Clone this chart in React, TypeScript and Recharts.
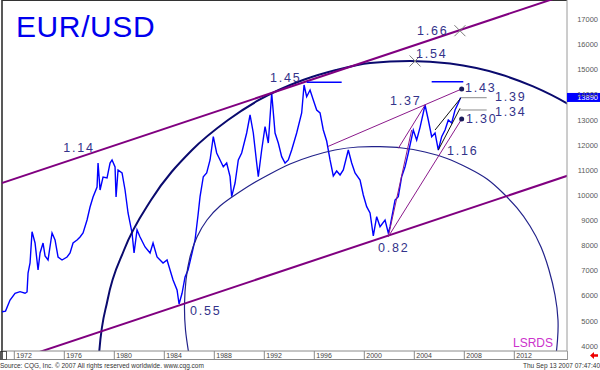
import React from "react";
import { ComposedChart, Line, XAxis, YAxis, ReferenceLine, ReferenceDot } from "recharts";

// ---------- price series (EUR/USD, quoted x10000) ----------
const priceYears = [
  1971.02, 1971.3, 1971.66, 1972.06, 1972.46, 1972.86, 1973.02, 1973.1, 1973.26, 1973.42, 1973.66, 1973.9,
  1974.06, 1974.3, 1974.46, 1974.7, 1975.02, 1975.26, 1975.5, 1975.82, 1976.22, 1976.46, 1976.7, 1977.02,
  1977.26, 1977.5, 1977.82, 1978.06, 1978.3, 1978.62, 1978.7, 1978.86, 1979.1, 1979.42, 1979.66, 1979.82,
  1980.06, 1980.14, 1980.3, 1980.62, 1980.86, 1981.1, 1981.42, 1981.58, 1981.82, 1982.06, 1982.46, 1982.86,
  1983.1, 1983.42, 1983.66, 1983.9, 1984.22, 1984.46, 1984.7, 1985.02, 1985.18, 1985.42, 1985.66, 1985.9,
  1986.22, 1986.46, 1986.7, 1986.86, 1987.12, 1987.39, 1987.66, 1987.92, 1988.19, 1988.46, 1988.72, 1988.99,
  1989.26, 1989.39, 1989.66, 1989.92, 1990.19, 1990.59, 1990.86, 1991.12, 1991.39, 1991.52, 1991.79, 1992.06,
  1992.32, 1992.59, 1992.86, 1993.12, 1993.39, 1993.66, 1993.92, 1994.19, 1994.59, 1994.99, 1995.18, 1995.39,
  1995.66, 1995.92, 1996.19, 1996.46, 1996.72, 1996.99, 1997.26, 1997.52, 1997.79, 1998.06, 1998.32, 1998.72,
  1998.99, 1999.26, 1999.66, 1999.92, 2000.19, 2000.46, 2000.72, 2000.99, 2001.26, 2001.66, 2001.92, 2002.06,
  2002.46, 2002.72, 2002.99, 2003.26, 2003.39, 2003.52, 2003.92, 2004.19, 2004.46, 2004.86, 2005.12, 2005.39,
  2005.66, 2005.92, 2006.19, 2006.46, 2006.72, 2006.99, 2007.26, 2007.52, 2007.71,
];
const priceValues = [
  5365, 5390, 5831, 6098, 6161, 6098, 6150, 6905, 7303, 8549, 8099, 7025,
  7701, 8099, 7582, 7422, 8497, 8219, 7542, 7422, 7542, 7701, 8099, 8219,
  8338, 8497, 9014, 9531, 9929, 10327, 11282, 10208, 10725, 10685, 11282, 11402,
  11123, 9929, 11004, 10884, 10208, 9293, 8497, 7701, 8616, 8338, 7940, 7701,
  8099, 7542, 7422, 7303, 7422, 7025, 6627, 6229, 5672, 6098, 6746, 7025,
  7701, 8219, 9213, 9941, 10737, 10884, 11402, 12329, 11680, 11402, 11135, 11282,
  10737, 9941, 10486, 11402, 11680, 12476, 13192, 12476, 11282, 10737, 11799, 12727,
  12078, 14067, 12476, 12078, 11533, 11282, 11402, 11799, 12476, 13272, 14386, 13920,
  14187, 13789, 13391, 13272, 12595, 12157, 11402, 10765, 10964, 10805, 11004, 11799,
  11282, 10884, 10606, 10009, 9543, 9293, 8378, 9146, 8748, 9014, 8497, 8748,
  9810, 9941, 10737, 11135, 11402, 11680, 12595, 12197, 12700, 13590, 12993, 12329,
  12476, 11799, 12329, 12595, 12993, 12874, 13391, 13670, 13890,
];
const lastPrice = 13890;

// ---------- axes ----------
const yearTicks = [1972, 1976, 1980, 1984, 1988, 1992, 1996, 2000, 2004, 2008, 2012];
const priceTicks = [4000, 5000, 6000, 7000, 8000, 9000, 10000, 11000, 12000, 13000, 14000, 15000, 16000, 17000];
const xDomain = [1971.016, 2016.216];
const yDomain = [3801, 17768];

// ---------- trend lines ----------
const upperChannelYears = [1970, 2017];
const upperChannelValues = [10317, 18123];
const lowerChannelYears = [1970, 2017];
const lowerChannelValues = [3096, 10898];
const fan137Years = [1997.09, 2007.79];
const fan137Values = [11939, 14227];
const fan130Years = [2001.92, 2007.79];
const fan130Values = [8350, 13033];
const steepYears = [2001.92, 2003.79];
const steepValues = [8350, 12595];
const arcToPeakYears = [2002.72, 2004.86];
const arcToPeakValues = [11867, 13590];
const blackUpperYears = [2005.66, 2007.74];
const blackUpperValues = [12595, 13880];
const blackLowerYears = [2005.92, 2007.66];
const blackLowerValues = [11799, 13459];
const level139Years = [2007.74, 2009.79];
const level139Values = [13880, 13880];
const level134Years = [2007.66, 2009.79];
const level134Values = [13391, 13391];
const top145Years = [1995.39, 1998.19];
const top145Values = [14493, 14493];
const top143Years = [2005.39, 2007.92];
const top143Values = [14517, 14517];

// ---------- arcs ----------
const bigArcYears = [1978.76, 1978.8, 1979.46, 1980.78, 1982.94, 1986.22, 1989.1, 1991.58, 1995.1, 1997.74, 2000.46, 2003.66, 2006.86, 2010.86, 2013.5, 2016.22, 2017.26];
const bigArcValues = [2966, 3802, 5831, 7820, 9810, 11799, 12993, 13789, 14585, 14983, 15261, 15341, 15237, 14812, 14330, 13650, 13328];
const smallArcYears = [
  1985.976, 1985.696, 1985.616, 1985.736, 1986.056, 1986.616, 1987.416, 1988.456, 1989.656, 1991.016,
  1992.456, 1994.056, 1995.816, 1997.656, 1999.496, 2001.256, 2003.016, 2004.856, 2006.616, 2008.296,
  2009.816, 2011.096, 2012.216, 2013.256, 2014.136, 2014.776, 2015.256, 2015.496, 2015.456, 2015.336,
];
const smallArcValues = [
  3642, 4637, 5632, 6627, 7542, 8338, 9014, 9571, 10009, 10447,
  10845, 11242, 11561, 11799, 11919, 11931, 11879, 11720, 11461, 11083,
  10645, 10088, 9492, 8775, 7940, 7025, 6030, 5035, 4239, 3603,
];

// ---------- annotations ----------
const labelTexts = ["1.14", "1.45", "1.37", "1.43", "1.39", "1.34", "1.30", "1.16", "0.82", "0.55", "1.66", "1.54"];
const labelYears = [1975.92, 1992.46, 2002.06, 2008.06, 2010.46, 2010.46, 2008.14, 2006.62, 2001.1, 1986.06, 2004.22, 2004.14];
const labelValues = [11720, 14505, 13590, 14107, 13750, 13150, 12874, 11600, 7741, 5234, 16375, 15460];
const crossYears = [2007.65, 2004.06];
const crossValues = [16546, 15341];
const pivotYears = [2007.79, 2007.79];
const pivotValues = [14227, 13033];

const pts = (xs: number[], ys: number[]) => xs.map((x, i) => ({ x, y: ys[i] }));

const FONT = "'Liberation Sans', Arial, sans-serif";

const XTick = (props: any) => {
  const { x, payload } = props;
  return (
    <g>
      <line x1={x} x2={x} y1={351} y2={359} stroke="#8a8a8a" strokeWidth={1} />
      <text x={x + 2} y={358} fontSize={7} fill="#444" fontFamily={FONT}>
        {payload.value}
      </text>
    </g>
  );
};

const YTick = (props: any) => {
  const { y, payload } = props;
  return (
    <text x={598} y={y + 2.7} textAnchor="end" fontSize={7.5} fill="#5a5a5a" fontFamily={FONT}>
      {payload.value}
    </text>
  );
};

const seg = (key: string, xs: number[], ys: number[], color: string, width: number, curve: any = "linear") => (
  <Line
    key={key}
    data={pts(xs, ys)}
    dataKey="y"
    type={curve}
    stroke={color}
    strokeWidth={width}
    dot={false}
    activeDot={false}
    isAnimationActive={false}
    legendType="none"
  />
);

export default function App() {
  return (
    <div style={{ position: "absolute", left: 0, top: 0, width: 600, height: 370, background: "#fff", overflow: "hidden" }}>
      <div style={{ position: "absolute", left: 0, top: 0 }}>
        <ComposedChart width={600} height={370} margin={{ top: 0, right: 0, bottom: 0, left: 2 }}>
          <XAxis
            type="number"
            dataKey="x"
            domain={xDomain}
            allowDataOverflow
            ticks={yearTicks}
            interval={0}
            tick={<XTick />}
            tickLine={false}
            axisLine={{ stroke: "#8a8a8a" }}
            height={19}
          />
          <YAxis
            type="number"
            orientation="right"
            domain={yDomain}
            allowDataOverflow
            ticks={priceTicks}
            interval={0}
            tick={<YTick />}
            tickLine={false}
            axisLine={{ stroke: "#9a9a9a" }}
            width={33}
          />
          <ReferenceLine x={xDomain[0]} stroke="#222" strokeWidth={1.5} />
          <ReferenceLine y={yDomain[1]} stroke="#333" strokeWidth={2} />

          <Line
            data={pts(priceYears, priceValues)}
            dataKey="y"
            type="linear"
            stroke="#0000ff"
            strokeWidth={1.4}
            dot={false}
            activeDot={false}
            isAnimationActive={false}
          />

          {seg("bigArc", bigArcYears, bigArcValues, "#0a0a6e", 2, "monotoneX")}
          {seg("smallArc", smallArcYears, smallArcValues, "#22228a", 1.2, "natural")}

          {seg("upper", upperChannelYears, upperChannelValues, "#800080", 2)}
          {seg("lower", lowerChannelYears, lowerChannelValues, "#800080", 2)}
          {seg("fan137", fan137Years, fan137Values, "#8b1a8b", 1)}
          {seg("fan130", fan130Years, fan130Values, "#8b1a8b", 1)}
          {seg("steep", steepYears, steepValues, "#8b1a8b", 1)}
          {seg("arcToPeak", arcToPeakYears, arcToPeakValues, "#8b1a8b", 1)}
          {seg("blackUpper", blackUpperYears, blackUpperValues, "#111", 1)}
          {seg("blackLower", blackLowerYears, blackLowerValues, "#111", 1)}
          {seg("l139", level139Years, level139Values, "#8a8a8a", 1)}
          {seg("l134", level134Years, level134Values, "#8a8a8a", 1)}
          {seg("t145", top145Years, top145Values, "#0000ff", 1.5)}
          {seg("t143", top143Years, top143Values, "#0000ff", 1.5)}

          {pivotYears.map((yr, i) => (
            <ReferenceDot key={"pv" + i} x={yr} y={pivotValues[i]} r={2.5} fill="#1a1a5a" stroke="none" ifOverflow="visible" />
          ))}
          {crossYears.map((yr, i) => (
            <ReferenceDot
              key={"cx" + i}
              x={yr}
              y={crossValues[i]}
              ifOverflow="visible"
              shape={(p: any) => (
                <g stroke="#7a7a7a" strokeWidth={1}>
                  <line x1={p.cx - 5.5} y1={p.cy - 5.5} x2={p.cx + 5.5} y2={p.cy + 5.5} />
                  <line x1={p.cx - 5.5} y1={p.cy + 5.5} x2={p.cx + 5.5} y2={p.cy - 5.5} />
                </g>
              )}
            />
          ))}
          {labelTexts.map((t, i) => (
            <ReferenceDot
              key={"lb" + i}
              x={labelYears[i]}
              y={labelValues[i]}
              ifOverflow="visible"
              shape={(p: any) => (
                <text x={p.cx} y={p.cy} fontSize={12.5} letterSpacing={1.8} fill="#33338a" fontFamily={FONT}>
                  {t}
                </text>
              )}
            />
          ))}
          <ReferenceDot
            x={xDomain[1]}
            y={lastPrice}
            ifOverflow="visible"
            shape={(p: any) => (
              <g>
                <rect x={p.cx} y={p.cy - 4.5} width={33} height={9} fill="#0000ff" />
                <text x={p.cx + 31} y={p.cy + 2.7} textAnchor="end" fontSize={7.5} fill="#fff" fontFamily={FONT}>
                  {lastPrice}
                </text>
              </g>
            )}
          />
        </ComposedChart>
      </div>
      <svg width={600} height={370} style={{ position: "absolute", left: 0, top: 0, pointerEvents: "none" }}>
        <text x={16} y={37} fontSize={30} letterSpacing={0.6} fill="#0000ee" fontFamily={FONT}>EUR/USD</text>
        <text x={513} y={347} fontSize={12} fill="#cc33cc" fontFamily={FONT}>LSRDS</text>
        <line x1={0} x2={567} y1={359.5} y2={359.5} stroke="#8a8a8a" />
        <rect x={0.5} y={351.5} width={6} height={8} fill="none" stroke="#555" />
        <line x1={2} x2={2} y1={351} y2={359} stroke="#222" strokeWidth={1.5} />
        <line x1={567.5} x2={567.5} y1={351} y2={360} stroke="#9a9a9a" />
        <polygon points="590,355.5 594,352 594,354.3 598,354.3 598,356.7 594,356.7 594,359" fill="#ee0000" />
        <text x={0} y={368} fontSize={6.5} fill="#333" fontFamily={FONT}>
          Source: CQG, Inc. © 2007 All rights reserved worldwide. www.cqg.com
        </text>
        <text x={600} y={368} textAnchor="end" fontSize={6.5} fill="#333" fontFamily={FONT}>
          Thu Sep 13 2007 07:47:40
        </text>
      </svg>
    </div>
  );
}
